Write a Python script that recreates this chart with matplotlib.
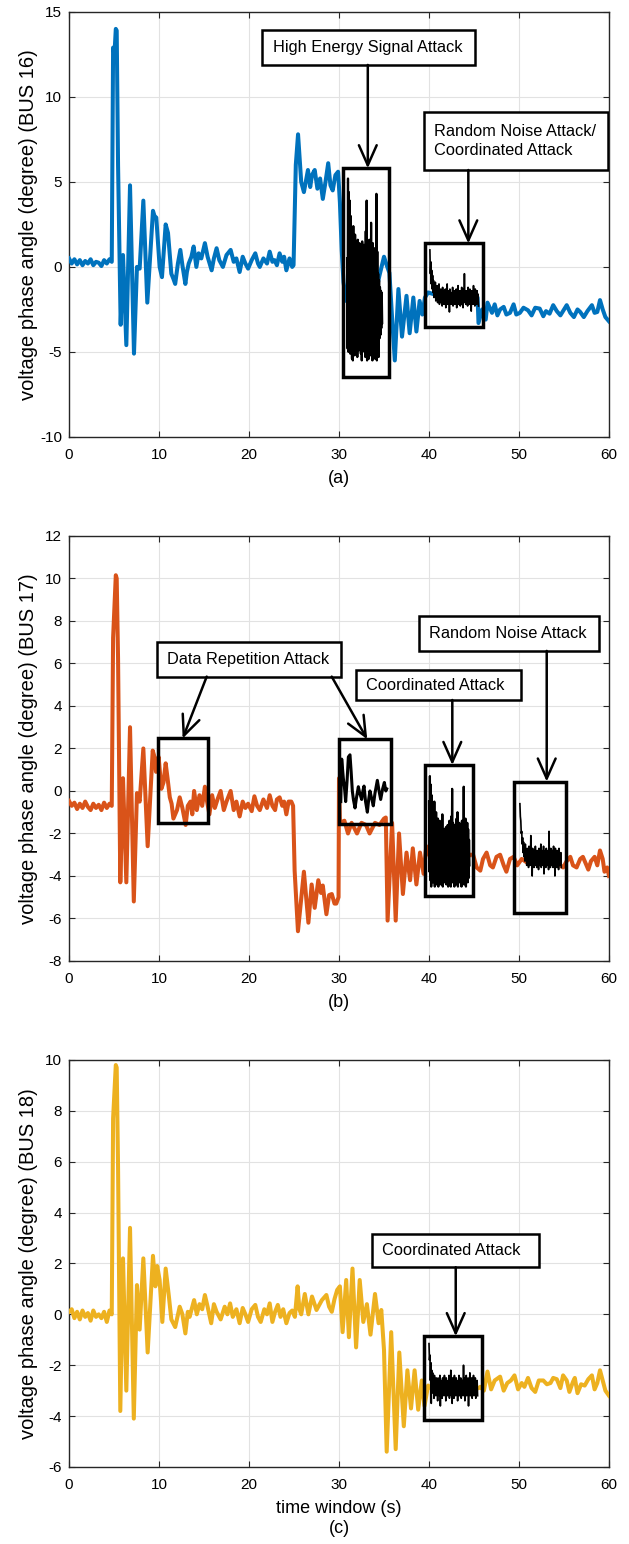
import matplotlib.pyplot as plt
from matplotlib.patches import Rectangle
import numpy as np

plt.rcParams['font.family'] = ['Liberation Sans', 'DejaVu Sans']
plt.rcParams['axes.unicode_minus'] = False

# ---------------- BUS 16 (blue) ----------------
t16 = [0.0, 0.3, 0.6, 0.9, 1.2, 1.5, 1.8, 2.1, 2.4, 2.7, 3.0, 3.3, 3.6, 3.9, 4.2, 4.5, 4.75,
       4.9, 5.05, 5.2, 5.3, 5.45, 5.74, 6.0, 6.37, 6.78, 7.22, 7.55, 7.85, 8.26, 8.7, 9.33, 9.5,
       9.7, 10.07, 10.33, 10.74, 11.0, 11.37, 11.6, 11.8, 12.1, 12.37, 12.6, 12.93, 13.1, 13.3,
       13.6, 13.85, 14.15, 14.4, 14.7, 15.1, 15.4, 15.85, 16.1, 16.4, 16.7, 17.1, 17.5, 17.96,
       18.3, 18.6, 18.96, 19.3, 19.6, 19.9, 20.3, 20.7, 21.0, 21.2, 21.6, 22.0, 22.3, 22.6, 22.85,
       23.1, 23.4, 23.7, 23.9, 24.15, 24.5, 24.8, 24.95, 25.2, 25.45, 25.8, 26.1, 26.55, 26.8,
       27.0, 27.3, 27.6, 27.9, 28.2, 28.5, 28.8, 29.05, 29.3, 29.6, 29.9, 30.1, 30.3, 30.5, 30.8,
       31.5, 32.2, 33.0, 33.8, 34.5, 35.0, 35.3, 35.6, 35.9, 36.2, 36.6, 37.0, 37.5, 37.85, 38.26,
       38.6, 38.96, 39.26, 39.55, 39.9, 40.5, 41.5, 42.5, 43.5, 44.5, 45.4, 45.5, 45.9, 46.3,
       46.5, 47.0, 47.3, 47.6, 47.9, 48.3, 48.6, 49.0, 49.4, 49.7, 50.1, 50.5, 51.0, 51.4, 51.8,
       52.3, 52.7, 53.0, 53.4, 53.8, 54.2, 54.6, 55.0, 55.3, 55.7, 56.1, 56.5, 56.8, 57.2, 57.6,
       58.1, 58.4, 58.7, 59.0, 59.3, 59.6, 60.0]
v16 = [0.5, 0.2, 0.45, 0.15, 0.4, 0.1, 0.35, 0.2, 0.45, 0.1, 0.3, 0.25, 0.05, 0.4, 0.2, 0.45, 0.3,
       12.9, 12.5, 14.0, 13.9, 6.0, -3.4, 0.7, -4.6, 4.8, -5.1, 0.0, -0.1, 3.9, -2.1, 3.3, 3.0,
       2.9, 0.0, -0.6, 2.5, 2.0, -0.4, -0.7, -1.0, 0.2, 1.0, 0.1, -1.0, -0.3, 0.2,
       0.6, 1.2, 0.0, 0.8, 0.5, 1.4, 0.6, -0.2, 0.5, 1.1, 0.4, 0.0, 0.7, 1.0,
       0.3, 0.5, -0.3, 0.6, 0.2, -0.1, 0.4, 0.8, 0.2, 0.0, 0.5, 0.2, 0.9, 0.3, 0.4,
       0.1, 0.8, 0.3, 0.6, -0.2, 0.5, 0.0, 0.1, 6.0, 7.8, 5.0, 4.4, 5.7, 4.7,
       5.4, 5.7, 4.6, 5.2, 4.0, 5.0, 6.1, 4.8, 4.5, 5.4, 5.6, 3.8, 1.0, -0.9, -2.0,
       -0.5, -2.5, -0.8, -2.2, -0.5, 0.6, 0.1, -0.35, -3.0, -5.5, -1.3, -4.1, -1.7, -3.9, -1.8,
       -3.8, -2.0, -2.8, -1.8, -1.5, -1.6, -1.8, -1.9, -1.8, -1.9, -1.8, -3.3, -2.5, -3.1,
       -2.1, -2.7, -2.2, -2.85, -2.5, -2.35, -2.8, -2.7, -2.2, -2.8, -2.7, -2.4, -2.55, -2.85, -2.4,
       -2.45, -2.9, -2.6, -2.75, -2.25, -2.6, -2.85, -2.5, -2.25, -2.7, -2.95, -2.5, -2.65, -2.95, -2.6,
       -2.25, -2.7, -2.65, -1.95, -2.5, -2.95, -3.2]

# high energy signal attack (upper / lower swings)
he16_hi = [0.5, 5.2, 4.4, 3.9, 3.0, 2.2, 1.7, 2.4, 1.3, 1.9, 1.5, 1.0, 1.6, 0.9, 1.4, 1.2, 0.6, 1.5,
           0.8, 1.3, 0.4, 2.1, 3.9, 1.2, 0.7, 1.6, 1.0, 2.6, 0.5, 1.4, 0.2, 1.1, 0.6, 4.3, 0.9,
           -0.4, -0.8, -1.2, -1.4, -1.5]
he16_lo = [-4.8, -5.0, -4.6, -5.1, -4.9, -5.4, -5.5, -4.8, -5.2, -4.6, -5.0, -5.3, -4.4, -4.9, -4.5,
           -5.1, -5.5, -4.7, -4.2, -5.0, -5.3, -4.8, -5.5, -4.6, -5.4, -4.5, -5.2, -4.7, -5.5, -4.4,
           -5.0, -5.4, -4.8, -5.5, -4.6, -5.3, -4.2, -4.0, -3.6, -3.3]
# random noise / coordinated attack
rn16_hi = [1.0, 0.3, -0.2, -0.5, -0.8, -1.0, -0.9, -1.2, -1.1, -1.3,
           -1.0, -1.4, -1.3, -1.5, -1.2, -1.4, -1.6, -1.3, -1.5, -1.0,
           -1.4, -1.6, -1.3, -1.5, -1.7, -1.2, -1.5, -1.4, -1.6, -1.3,
           -1.5, -1.1, -1.6, -1.4, -1.5, -1.2, -1.6, -1.3, -0.4, -1.5,
           -1.4, -1.6, -1.2, -1.5, -1.3, -1.6, -1.4, -1.5, -1.1, -1.6,
           -1.3, -1.5, -1.4, -1.6]
rn16_lo = [-0.4, -1.0, -1.3, -1.5, -1.8, -1.7, -2.0, -1.9, -2.1, -1.9,
           -2.2, -2.0, -2.1, -2.3, -2.0, -2.2, -2.1, -2.4, -2.0, -2.2,
           -2.1, -2.65, -2.0, -2.2, -2.1, -2.3, -2.0, -2.2, -2.1, -2.4,
           -2.0, -2.2, -2.1, -2.3, -2.0, -2.2, -2.4, -2.1, -2.0, -2.2,
           -2.1, -2.3, -2.0, -2.2, -2.1, -2.6, -2.0, -2.2, -2.1, -2.3,
           -2.0, -2.2, -2.1, -2.3]

# ---------------- BUS 17 (orange) ----------------
t17 = [0.0, 0.3, 0.6, 0.9, 1.2, 1.5, 1.8, 2.1, 2.4, 2.7, 3.0, 3.3, 3.6, 3.9, 4.2, 4.5, 4.75,
       4.9, 5.2, 5.3, 5.45, 5.7, 6.0, 6.37, 6.78, 7.2, 7.55, 7.85, 8.26, 8.74, 9.3, 9.5, 9.67,
       9.96, 10.26, 10.5, 10.74, 10.95, 11.2, 11.4, 11.6, 12.0, 12.3, 12.6, 12.96, 13.2, 13.5,
       13.7, 13.9, 14.2, 14.5, 14.8, 15.1, 15.3, 15.6, 15.9, 16.2, 16.5, 16.85, 17.2, 17.5, 17.96,
       18.3, 18.6, 18.96, 19.3, 19.6, 19.9, 20.3, 20.6, 20.9, 21.2, 21.6, 22.0, 22.3, 22.6, 22.9,
       23.1, 23.4, 23.7, 23.9, 24.15, 24.4, 24.7, 24.9, 25.07, 25.44, 25.7, 26.1, 26.6, 26.96,
       27.3, 27.7, 28.0, 28.2, 28.6, 28.9, 29.2, 29.5, 29.7, 29.95, 30.0, 30.1, 30.6, 31.0, 31.4,
       32.0, 32.5, 33.0, 33.4, 34.0, 34.5, 35.0, 35.2, 35.4, 35.9, 36.3, 36.67, 37.1, 37.5, 37.9,
       38.2, 38.6, 39.0, 39.4, 39.7, 40.2, 41.0, 42.0, 43.0, 44.0, 44.6, 44.9, 45.3, 45.7, 46.0,
       46.4, 46.8, 47.1, 47.5, 47.9, 48.3, 48.6, 49.0, 49.4, 49.8, 50.3, 51.0, 52.0, 53.0, 54.0,
       54.9, 55.3, 55.7, 56.0, 56.4, 56.8, 57.1, 57.4, 57.7, 58.0, 58.4, 58.7, 59.0, 59.3, 59.5,
       59.8, 60.0]
v17 = [-0.47, -0.7, -0.55, -0.85, -0.6, -0.8, -0.5, -0.75, -0.9, -0.6, -0.8, -0.65, -0.9, -0.55,
       -0.8, -0.6, -0.7, 7.2, 10.15, 10.0, 6.25, -4.3, 0.6, -4.3, 3.0, -5.2, -0.1, -0.5, 2.0, -2.6,
       1.9, 1.6, 0.9, 1.6, 0.1, 0.4, 1.3, 0.6, -0.3, -0.6, -1.3, -0.9, -0.3, -0.8, -1.6, -0.7, -0.5,
       -1.1, 0.0, -0.9, -0.2, -0.7, 0.2, -0.4, -1.1, -0.2, -0.8, -0.4, 0.0, -0.9, -0.5, 0.0,
       -0.9, -0.5, -1.2, -0.5, -0.8, -0.6, -0.95, -0.25, -0.7, -0.9, -0.4, -0.8, -0.2, -0.7, -0.9,
       -0.4, -0.3, -0.7, -0.5, -1.1, -0.5, -0.5, -0.7, -3.75, -6.6, -5.5, -3.8, -6.2, -4.4,
       -5.5, -4.2, -4.8, -4.45, -5.8, -4.9, -4.85, -5.3, -5.3, -5.0, 0.6, -1.5, -1.4, -2.0, -1.5,
       -2.0, -1.5, -1.6, -2.0, -1.5, -1.6, -1.3, -1.25, -6.1, -1.5, -6.1, -2.0, -4.85, -2.9, -4.2,
       -2.7, -4.4, -2.9, -3.9, -2.6, -3.2, -3.0, -3.3, -3.1, -3.2, -3.0, -3.0, -3.6, -3.75, -3.2,
       -2.9, -3.5, -3.6, -3.1, -3.0, -3.5, -3.8, -3.2, -3.1, -3.5, -3.2, -3.4, -3.2, -3.3, -3.3,
       -3.6, -3.3, -3.1, -3.5, -3.6, -3.2, -3.1, -3.4, -3.7, -3.3, -3.1, -3.5, -2.8, -3.2, -3.8,
       -3.6, -4.0]

# data repetition attack (replayed segment)
dr17_t = [30.2, 30.3, 30.48, 30.6, 30.74, 30.9, 31.04, 31.22, 31.35, 31.48, 31.6, 31.78, 31.95,
          32.15, 32.3, 32.52, 32.65, 32.78, 32.95, 33.15, 33.3, 33.44, 33.6, 33.81, 34.0, 34.26,
          34.45, 34.63, 34.85, 35.04, 35.2, 35.3]
dr17_v = [-0.5, 1.5, 0.6, 0.2, -0.5, 0.5, 1.6, 1.7, 0.9, 0.0, -0.4, -0.8, -0.3, 0.2, -0.1, -0.4,
          0.0, 0.23, -0.5, -1.0, -0.4, 0.0, -0.3, -0.7, -0.1, 0.5, 0.0, -0.4, 0.1, 0.4, 0.0, 0.1]
# coordinated attack
ca17_hi = [-0.5, 0.7, 0.3, -0.2, -0.6, -0.9, -0.5, -1.2, -1.0, -1.5,
           -1.3, -1.7, -1.4, -1.9, -1.6, -1.1, -2.0, -1.8, -2.2, -1.7,
           -2.0, -1.6, -1.9, -1.4, -1.8, -1.2, 0.1, -1.5, -2.0, -1.6,
           -1.9, -1.3, -1.0, -1.8, -1.5, -2.1, -1.7, -1.4, -1.9, 0.2,
           -1.6, -1.3, -2.0, -1.5, -1.8, -2.3]
ca17_lo = [-3.8, -4.2, -4.5, -3.9, -4.3, -4.1, -4.5, -3.7, -4.4, -4.0,
           -4.5, -3.9, -4.2, -4.4, -3.8, -4.5, -4.1, -4.3, -3.6, -4.4,
           -4.0, -4.5, -3.8, -4.2, -4.5, -3.9, -4.3, -4.1, -4.5, -3.7,
           -4.4, -4.2, -4.5, -3.9, -4.3, -4.0, -4.5, -3.8, -4.2, -4.4,
           -4.0, -4.5, -3.7, -4.3, -4.1, -3.5]
# random noise attack
rn17_hi = [-0.6, -1.4, -1.9, -2.2, -2.4, -2.6, -2.5, -2.8, -2.7, -2.9,
           -2.6, -2.8, -2.1, -2.9, -2.7, -3.0, -2.8, -2.6, -2.9, -2.8,
           -3.0, -2.7, -2.9, -2.5, -2.8, -3.0, -2.6, -2.9, -2.8, -2.7,
           -3.0, -2.8, -1.9, -2.9, -2.7, -3.0, -2.8, -2.6, -2.9, -2.7,
           -3.0, -2.8, -2.9, -2.7, -3.0, -2.9]
rn17_lo = [-1.2, -2.0, -2.5, -2.9, -3.1, -3.3, -3.2, -3.5, -3.3, -3.6,
           -3.4, -3.5, -3.3, -4.0, -3.4, -3.6, -3.5, -3.3, -3.6, -3.4,
           -3.7, -3.5, -3.4, -3.6, -3.5, -3.3, -3.9, -3.5, -3.6, -3.4,
           -3.5, -3.7, -3.4, -3.6, -3.5, -3.3, -3.6, -3.5, -4.0, -3.4,
           -3.6, -3.5, -3.7, -3.4, -3.5, -3.6]

# ---------------- BUS 18 (yellow) ----------------
t18 = [0.0, 0.3, 0.6, 0.9, 1.2, 1.5, 1.8, 2.1, 2.4, 2.7, 3.0, 3.3, 3.6, 3.9, 4.2, 4.5, 4.75,
       4.9, 5.2, 5.3, 5.45, 5.7, 6.0, 6.37, 6.78, 7.2, 7.55, 7.85, 8.26, 8.74, 9.33, 9.6, 9.8,
       10.07, 10.37, 10.74, 11.1, 11.37, 11.8, 12.3, 12.6, 12.93, 13.2, 13.4, 13.9, 14.2, 14.5,
       14.8, 15.1, 15.4, 15.8, 16.1, 16.4, 16.85, 17.3, 17.6, 17.9, 18.2, 18.6, 18.96, 19.3, 19.6,
       19.9, 20.3, 20.7, 21.0, 21.3, 21.7, 22.0, 22.3, 22.6, 22.9, 23.2, 23.5, 23.8, 24.15, 24.5,
       24.8, 25.1, 25.4, 25.6, 25.8, 26.2, 26.6, 27.0, 27.5, 28.1, 28.6, 28.9, 29.2, 29.5, 29.8,
       30.1, 30.4, 30.8, 31.1, 31.5, 31.9, 32.3, 32.7, 33.1, 33.5, 34.0, 34.4, 34.7, 35.0, 35.3,
       35.8, 36.3, 36.7, 37.2, 37.6, 38.0, 38.4, 38.8, 39.2, 39.5, 39.9, 40.5, 41.5, 42.5, 43.5,
       44.5, 45.5, 45.7, 46.1, 46.5, 46.9, 47.3, 47.9, 48.3, 48.7, 49.1, 49.5, 49.9, 50.3, 50.6,
       51.0, 51.4, 51.8, 52.2, 52.7, 53.1, 53.5, 53.8, 54.2, 54.6, 54.9, 55.3, 55.6, 56.0, 56.2,
       56.5, 56.9, 57.3, 57.7, 58.1, 58.4, 58.7, 59.0, 59.3, 59.6, 60.0]
v18 = [0.1, 0.2, -0.15, 0.1, -0.2, 0.15, -0.1, 0.05, -0.25, 0.15, -0.1, 0.0, -0.15, 0.1, -0.3,
       0.15, 0.0, 7.7, 9.8, 9.7, 5.8, -3.8, 2.2, -3.0, 3.4, -4.1, 1.15, -0.6, 2.2, -1.5, 2.3, 1.1,
       1.9, 1.35, -0.3, 1.8, 0.7, -0.2, -0.5, 0.3, 0.0, -0.75, 0.1, -0.1, 0.56, 0.0, 0.4,
       0.2, 0.76, 0.3, -0.35, 0.4, 0.1, -0.2, 0.3, 0.0, 0.43, -0.1, 0.2, -0.35, 0.25, 0.0,
       -0.3, 0.2, 0.37, -0.1, -0.3, 0.2, 0.0, 0.43, -0.3, 0.1, 0.37, -0.1, 0.2, -0.35, 0.05,
       0.15, -0.1, 1.1, 0.2, 0.0, 0.8, 0.0, 0.7, 0.17, 0.56, 0.76, 0.3, 0.1, 0.6, 0.96,
       1.1, -0.7, 1.35, -0.9, 1.8, -1.3, 1.35, -0.3, 0.4, -0.8, 0.8, -0.35, 0.17, -1.4, -5.4,
       -0.7, -5.3, -1.5, -4.4, -2.2, -3.7, -2.2, -3.75, -2.6, -3.6, -2.8, -3.0, -2.9, -3.0, -2.9,
       -3.0, -2.9, -2.85, -3.0, -2.25, -2.95, -2.6, -2.45, -3.0, -2.7, -2.6, -2.4, -2.95, -2.7, -2.85,
       -2.5, -2.9, -3.05, -2.6, -2.6, -2.75, -2.7, -2.5, -2.55, -2.9, -2.4, -2.6, -3.05, -2.65, -2.5,
       -3.1, -2.75, -2.8, -2.55, -2.4, -2.95, -2.7, -2.2, -2.6, -3.0, -3.2]

# coordinated attack
ca18_hi = [-1.15, -1.6, -1.9, -2.2, -2.3, -2.5, -2.4, -2.6, -2.5, -2.7,
           -2.5, -2.6, -2.4, -2.7, -2.6, -2.5, -2.7, -2.4, -2.6, -2.5,
           -2.7, -2.6, -2.4, -2.6, -2.2, -2.7, -2.5, -2.6, -2.4, -2.7,
           -2.5, -2.6, -2.7, -2.4, -2.6, -2.5, -2.7, -2.6, -2.0, -2.5,
           -2.7, -2.4, -2.6, -2.5, -2.7, -2.3, -2.6, -2.5, -2.7, -2.4,
           -2.6, -2.5, -2.7, -2.6]
ca18_lo = [-1.8, -2.6, -3.5, -3.0, -3.1, -3.3, -3.0, -3.2, -3.1, -3.4,
           -3.0, -3.2, -3.6, -3.1, -3.3, -3.0, -3.2, -3.1, -3.4, -3.0,
           -3.2, -3.1, -3.3, -3.0, -3.2, -3.5, -3.1, -3.3, -3.0, -3.2,
           -3.1, -3.4, -3.0, -3.2, -3.1, -3.3, -3.0, -3.2, -3.1, -3.4,
           -3.0, -3.2, -3.1, -3.6, -3.0, -3.2, -3.1, -3.3, -3.0, -3.2,
           -3.1, -3.3, -3.0, -3.2]

BLUE, ORANGE, YELLOW = '#0072BD', '#D95319', '#EDB120'
AX_EDGE = '#262626'


def swing(hi, lo, t0, t1):
    # interleaves upper and lower swings of an attack trace over its time window
    n = min(len(hi), len(lo))
    vals = np.column_stack([hi[:n], lo[:n]]).ravel()
    return np.linspace(t0, t1, len(vals)), vals


def style(ax, ylim, yticks):
    ax.set_xlim(0, 60)
    ax.set_ylim(*ylim)
    ax.set_xticks(range(0, 61, 10))
    ax.set_yticks(yticks)
    ax.grid(True, color='#e2e2e2', lw=0.8)
    ax.set_axisbelow(True)
    ax.tick_params(direction='in', top=True, right=True, length=4, width=0.8,
                   labelsize=11, colors=AX_EDGE, labelcolor='black')
    ax.tick_params(axis='x', pad=8)
    ax.tick_params(axis='y', pad=5)
    for s in ax.spines.values():
        s.set_color(AX_EDGE)
        s.set_linewidth(1.0)


def databox(ax, x0, x1, y0, y1):
    ax.add_patch(Rectangle((x0, y0), x1 - x0, y1 - y0, fill=False, ec='black', lw=2.5, zorder=6))


def textbox(ax, x0, x1, y0, y1, text, tx, ha='center'):
    ax.add_patch(Rectangle((x0, y0), x1 - x0, y1 - y0, fc='white', ec='black', lw=1.8, zorder=6))
    ax.text(tx, (y0 + y1) / 2, text, ha=ha, va='center', fontsize=11.8, zorder=7,
            linespacing=1.35)


def arrow(ax, x0, y0, x1, y1):
    ax.annotate('', xy=(x1, y1), xytext=(x0, y0), zorder=7,
                arrowprops=dict(arrowstyle='->,head_length=0.9,head_width=0.4', lw=1.8,
                                color='black', shrinkA=0, shrinkB=0, mutation_scale=16))


fig = plt.figure(figsize=(6.29, 15.44), dpi=100)
ax1 = fig.add_axes([0.1097, 0.7170, 0.8585, 0.2753])
ax2 = fig.add_axes([0.1097, 0.3776, 0.8585, 0.2753])
ax3 = fig.add_axes([0.1097, 0.0499, 0.8585, 0.2636])

# (a) BUS 16
ax1.plot(t16, v16, color=BLUE, lw=2.9, zorder=3)
tt, vv = swing(he16_hi, he16_lo, 30.9, 34.8)
ax1.plot(tt, vv, color='black', lw=1.6, zorder=4)
tt, vv = swing(rn16_hi, rn16_lo, 40.1, 45.5)
ax1.plot(tt, vv, color='black', lw=1.2, zorder=4)
style(ax1, (-10, 15), range(-10, 16, 5))
databox(ax1, 30.5, 35.55, -6.47, 5.8)
databox(ax1, 39.6, 46.0, -3.53, 1.38)
textbox(ax1, 21.44, 45.1, 11.88, 13.94, 'High Energy Signal Attack', 33.2)
textbox(ax1, 39.48, 59.93, 5.7, 9.1, 'Random Noise Attack/\nCoordinated Attack', 40.56, ha='left')
arrow(ax1, 33.2, 11.88, 33.2, 5.8)
arrow(ax1, 44.37, 5.7, 44.37, 1.38)
ax1.set_ylabel('voltage phase angle (degree) (BUS 16)', fontsize=14.5)
ax1.set_xlabel('(a)', fontsize=13)

# (b) BUS 17
ax2.plot(t17, v17, color=ORANGE, lw=2.9, zorder=3)
ax2.plot(dr17_t, dr17_v, color='black', lw=2.2, zorder=4)
tt, vv = swing(ca17_hi, ca17_lo, 40.0, 44.5)
ax2.plot(tt, vv, color='black', lw=1.6, zorder=4)
tt, vv = swing(rn17_hi, rn17_lo, 50.1, 54.7)
ax2.plot(tt, vv, color='black', lw=1.2, zorder=4)
style(ax2, (-8, 12), range(-8, 13, 2))
databox(ax2, 9.92, 15.48, -1.52, 2.47)
databox(ax2, 30.03, 35.8, -1.57, 2.43)
databox(ax2, 39.56, 44.92, -4.94, 1.22)
databox(ax2, 49.48, 55.2, -5.72, 0.44)
textbox(ax2, 9.81, 30.19, 5.38, 7.03, 'Data Repetition Attack', 19.93)
textbox(ax2, 31.9, 50.19, 4.28, 5.69, 'Coordinated Attack', 40.67)
textbox(ax2, 38.92, 58.92, 6.59, 8.24, 'Random Noise Attack', 48.8)
arrow(ax2, 15.3, 5.38, 12.63, 2.47)
arrow(ax2, 29.19, 5.38, 33.14, 2.43)
arrow(ax2, 42.59, 4.28, 42.59, 1.22)
arrow(ax2, 53.08, 6.59, 53.08, 0.44)
ax2.set_ylabel('voltage phase angle (degree) (BUS 17)', fontsize=14.5)
ax2.set_xlabel('(b)', fontsize=13)

# (c) BUS 18
ax3.plot(t18, v18, color=YELLOW, lw=2.9, zorder=3)
tt, vv = swing(ca18_hi, ca18_lo, 40.0, 45.4)
ax3.plot(tt, vv, color='black', lw=1.2, zorder=4)
style(ax3, (-6, 10), range(-6, 11, 2))
databox(ax3, 39.44, 45.86, -4.15, -0.86)
textbox(ax3, 33.67, 52.26, 1.85, 3.14, 'Coordinated Attack', 42.47)
arrow(ax3, 42.97, 1.85, 42.97, -0.86)
ax3.set_ylabel('voltage phase angle (degree) (BUS 18)', fontsize=14.5)
ax3.set_xlabel('time window (s)\n(c)', fontsize=13, linespacing=1.25)

for ax, h in ((ax1, 425), (ax2, 425), (ax3, 406)):
    ax.yaxis.set_label_coords(-0.0574, 0.5)
    ax.xaxis.set_label_coords(0.5, -33 / h)

fig.savefig('out.png', dpi=100)
